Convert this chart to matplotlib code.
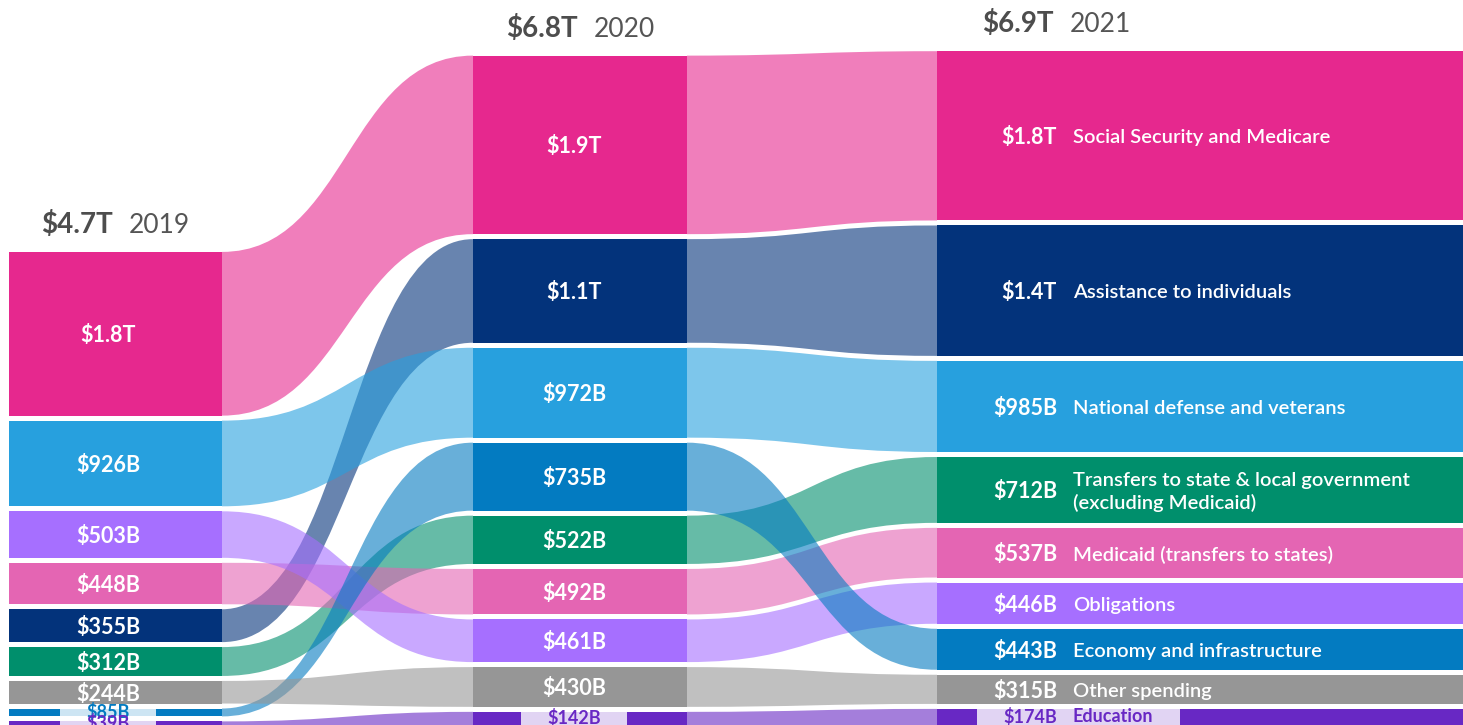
import matplotlib
matplotlib.use("Agg")
import matplotlib.pyplot as plt
from matplotlib.path import Path
from matplotlib.patches import PathPatch, Rectangle
from matplotlib.colors import to_rgb

## Federal spending by category, in billions of dollars.
## Lists follow the order of `categories`.
years = ['2019', '2020', '2021']
categories = ['Social Security and Medicare', 'Assistance to individuals',
              'National defense and veterans',
              'Transfers to state & local government\n(excluding Medicaid)',
              'Medicaid (transfers to states)', 'Obligations',
              'Economy and infrastructure', 'Other spending', 'Education']
colors = ['#E6288E', '#03337B', '#27A0DE', '#008F6C', '#E465B3',
          '#A66FFF', '#037BC1', '#969696', '#6828C4']

spend_2019 = [1770, 355, 926, 312, 448, 503, 85, 244, 39]
spend_2020 = [1930, 1120, 972, 522, 492, 461, 735, 430, 142]
spend_2021 = [1830, 1410, 985, 712, 537, 446, 443, 315, 174]
spending = [spend_2019, spend_2020, spend_2021]

## layout (pixels)
W, H = 1463, 725
PX = 1 / 0.0925          # billions per pixel
GAP = 5 * PX
col_left = [9, 473, 937]
col_right = [222, 687, 1463]
label_x = [108, 574]      # centre of value labels in the first two columns
value_x, name_x = 1057, 1073
header_x = [115, 580, 1056]
FLOW_ALPHA = 0.6

plt.rcParams['font.family'] = ['Lato', 'DejaVu Sans']

fig = plt.figure(figsize=(W / 100, H / 100), dpi=100)
ax = fig.add_axes([0, 0, 1, 1])
ax.set_xlim(0, W)
ax.set_ylim(0, H * PX)
ax.axis('off')


def fmt(v):
    if v >= 1000:
        return '$%.1fT' % (v / 1000)
    return '$%dB' % v


def tint(c, amount=0.2):
    r, g, b = to_rgb(c)
    return (1 - amount + amount * r, 1 - amount + amount * g, 1 - amount + amount * b)


##  Stack every column from the bottom, biggest category on top
spans = []
for vals in spending:
    order = sorted(range(len(vals)), key=lambda i: vals[i])
    pos = {}
    y = 0
    for i in order:
        pos[i] = (y, y + vals[i])
        y += vals[i] + GAP
    spans.append(pos)

##  Flows between neighbouring columns
for c in range(len(years) - 1):
    x0, x1 = col_right[c], col_left[c + 1]
    xm = (x0 + x1) / 2
    for i in range(len(categories)):
        b0, t0 = spans[c][i]
        b1, t1 = spans[c + 1][i]
        verts = [(x0, t0), (xm, t0), (xm, t1), (x1, t1),
                 (x1, b1), (xm, b1), (xm, b0), (x0, b0), (x0, t0)]
        codes = [Path.MOVETO, Path.CURVE4, Path.CURVE4, Path.CURVE4,
                 Path.LINETO, Path.CURVE4, Path.CURVE4, Path.CURVE4, Path.CLOSEPOLY]
        ax.add_patch(PathPatch(Path(verts, codes), facecolor=colors[i],
                               edgecolor='none', alpha=FLOW_ALPHA, zorder=1))

##  Bars and labels
small = []
for c, vals in enumerate(spending):
    for i, v in enumerate(vals):
        b, t = spans[c][i]
        ax.add_patch(Rectangle((col_left[c], b), col_right[c] - col_left[c], t - b,
                               facecolor=colors[i], edgecolor='none', zorder=2))
        mid = (b + t) / 2
        is_small = (t - b) / PX < 18
        if is_small:
            kw = dict(color=colors[i], fontsize=13, fontweight='bold', zorder=4)
        else:
            mid -= 2 * PX
            kw = dict(color='white', fontsize=15.5, fontweight='bold', zorder=4)
        texts = []
        if c < 2:
            texts.append(ax.text(label_x[c], mid, fmt(v), ha='center', va='center', **kw))
        else:
            texts.append(ax.text(value_x, mid, fmt(v), ha='right', va='center', **kw))
            nkw = dict(kw)
            nkw['fontweight'] = 'bold' if is_small else 'semibold'
            nkw['fontsize'] = 13 if is_small else 14.5
            texts.append(ax.text(name_x, mid, categories[i], ha='left', va='center',
                                 linespacing=1.35, **nkw))
        if is_small:
            small.append((texts, b, t, colors[i]))

    total = sum(vals)
    top = max(t for b, t in spans[c].values())
    ax.text(header_x[c] - 2, top + 19 * PX, fmt(total), ha='right', va='baseline',
            fontsize=20, fontweight='bold', color='#4D4D4D')
    ax.text(header_x[c] + 14, top + 19 * PX, years[c], ha='left', va='baseline',
            fontsize=19, color='#555555')

##  Light band behind the labels of the thin bars
fig.canvas.draw()
inv = ax.transData.inverted()
for texts, b, t, col in small:
    xs = []
    for tx in texts:
        ext = tx.get_window_extent()
        xs += [inv.transform((ext.x0, 0))[0], inv.transform((ext.x1, 0))[0]]
    x0, x1 = min(xs) - 26, max(xs) + 26
    ax.add_patch(Rectangle((x0, b), x1 - x0, t - b, facecolor=tint(col),
                           edgecolor='none', zorder=3))

fig.savefig('out.png', dpi=100)
